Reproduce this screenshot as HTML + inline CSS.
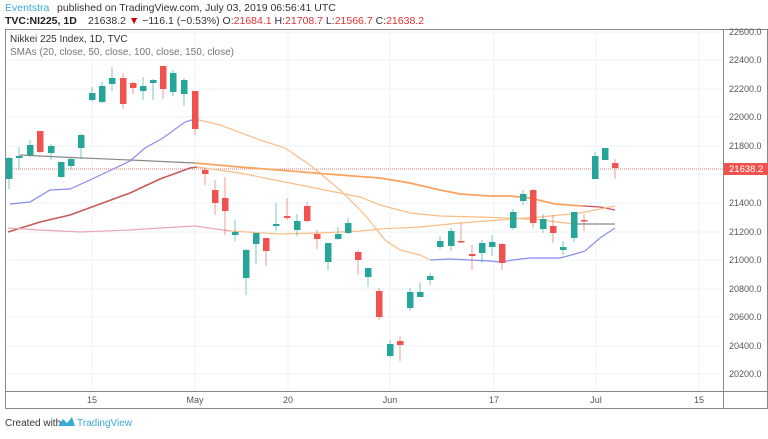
<!DOCTYPE html><html><head><style>
body{margin:0;width:768px;height:434px;background:#fff;overflow:hidden;font-family:"Liberation Sans",sans-serif}
</style></head><body>
<svg width="768" height="434" xmlns="http://www.w3.org/2000/svg" font-family="Liberation Sans, sans-serif">
<text x="5" y="11" font-size="10.5" fill="#3da9d9">Eventstra</text>
<text x="57" y="11" font-size="10.5" fill="#333">published on TradingView.com, July 03, 2019 06:56:41 UTC</text>
<text x="5" y="24" font-size="10.5" fill="#222" font-weight="bold">TVC:NI225, 1D</text>
<text x="88" y="24" font-size="10.5" fill="#333">21638.2 <tspan fill="#c00">▼</tspan> −116.1 (−0.53%) O:<tspan fill="#d33">21684.1</tspan> H:<tspan fill="#d33">21708.7</tspan> L:<tspan fill="#d33">21566.7</tspan> C:<tspan fill="#d33">21638.2</tspan></text>
<rect x="5.5" y="29.5" width="762" height="379" fill="none" stroke="#888"/>
<line x1="723.5" y1="29" x2="723.5" y2="409" stroke="#888"/>
<line x1="5" y1="391.5" x2="768" y2="391.5" stroke="#888"/>
<g stroke="#eef3f6">
<line x1="92" y1="30" x2="92" y2="391"/><line x1="195" y1="30" x2="195" y2="391"/><line x1="288" y1="30" x2="288" y2="391"/><line x1="390" y1="30" x2="390" y2="391"/><line x1="494" y1="30" x2="494" y2="391"/><line x1="596" y1="30" x2="596" y2="391"/><line x1="699" y1="30" x2="699" y2="391"/>
<line x1="6" y1="32" x2="723" y2="32"/><line x1="6" y1="60" x2="723" y2="60"/><line x1="6" y1="89" x2="723" y2="89"/><line x1="6" y1="117" x2="723" y2="117"/><line x1="6" y1="146" x2="723" y2="146"/><line x1="6" y1="174" x2="723" y2="174"/><line x1="6" y1="203" x2="723" y2="203"/><line x1="6" y1="232" x2="723" y2="232"/><line x1="6" y1="260" x2="723" y2="260"/><line x1="6" y1="289" x2="723" y2="289"/><line x1="6" y1="317" x2="723" y2="317"/><line x1="6" y1="346" x2="723" y2="346"/><line x1="6" y1="374" x2="723" y2="374"/>
</g>
<g font-size="9" fill="#555">
<text x="729" y="35">22600.0</text><text x="729" y="63">22400.0</text><text x="729" y="92">22200.0</text><text x="729" y="120">22000.0</text><text x="729" y="149">21800.0</text><text x="729" y="206">21400.0</text><text x="729" y="235">21200.0</text><text x="729" y="263">21000.0</text><text x="729" y="292">20800.0</text><text x="729" y="320">20600.0</text><text x="729" y="349">20400.0</text><text x="729" y="377">20200.0</text>
</g>
<g font-size="9" fill="#555" text-anchor="middle">
<text x="92" y="403">15</text><text x="195" y="403">May</text><text x="288" y="403">20</text><text x="390" y="403">Jun</text><text x="494" y="403">17</text><text x="596" y="403">Jul</text><text x="699" y="403">15</text>
</g>
<text x="10" y="42" font-size="10" fill="#333">Nikkei 225 Index, 1D, TVC</text>
<text x="10" y="55" font-size="10" fill="#777">SMAs (20, close, 50, close, 100, close, 150, close)</text>
<line x1="6" y1="169" x2="723" y2="169" stroke="#f08080" stroke-dasharray="1,1"/>
<g fill="none" stroke-width="1.2">
<polyline stroke="#8c8cf0" points="10,204 30,202 50,190 70,189 90,180 130,161 145,148 163,138 185,122 195,119"/>
<polyline stroke="#fbbd88" points="195,119 220,125 260,140 285,148 310,165 340,190 365,215 385,240 400,250 420,255 430,260"/>
<polyline stroke="#8c8cf0" points="430,260 450,259 470,260 490,261 500,262 513,260 530,258 560,258 575,254 585,251 600,238 615,228"/>
<polyline stroke="#888" points="20,155 60,157 130,160 195,163"/>
<polyline stroke="#f8a45e" stroke-width="1.8" points="195,163 240,167 290,171 340,175 380,178 410,183 440,190 460,194 490,196 510,196 530,198 555,204 583,206"/>
<polyline stroke="#c85060" points="583,206 600,207 615,210"/>
<polyline stroke="#c85a5a" stroke-width="1.6" points="8,232 40,222 70,215 100,204 130,193 160,179 190,168 197,167"/>
<polyline stroke="#fbbd88" points="197,167 240,173 280,181 320,189 360,197 380,205 410,213 440,216 480,217 510,218 540,220 575,224"/>
<polyline stroke="#888" points="575,224 600,224 615,224"/>
<polyline stroke="#e8a8b4" points="8,228 40,230 80,232 130,230 160,228 195,226 230,231"/>
<polyline stroke="#fbbd88" points="230,231 280,234 320,233 360,231 380,229 420,227 460,223 500,220 540,217 580,213 615,206"/>
</g>
<g stroke="#26a69a" stroke-opacity="0.6">
<line x1="9" x2="9" y1="157" y2="189"/><line x1="19" x2="19" y1="147" y2="170"/><line x1="30" x2="30" y1="140" y2="157"/><line x1="51" x2="51" y1="144" y2="160"/><line x1="61" x2="61" y1="162" y2="178"/><line x1="71" x2="71" y1="157" y2="170"/><line x1="81" x2="81" y1="134" y2="159"/><line x1="92" x2="92" y1="87" y2="102"/><line x1="102" x2="102" y1="82" y2="103"/><line x1="112" x2="112" y1="67" y2="91"/><line x1="143" x2="143" y1="77" y2="100"/><line x1="153" x2="153" y1="79" y2="100"/><line x1="173" x2="173" y1="70" y2="96"/><line x1="184" x2="184" y1="78" y2="106"/><line x1="235" x2="235" y1="220" y2="241"/><line x1="246" x2="246" y1="249" y2="295"/><line x1="256" x2="256" y1="233" y2="264"/><line x1="276" x2="276" y1="203" y2="231"/><line x1="297" x2="297" y1="214" y2="236"/><line x1="328" x2="328" y1="243" y2="270"/><line x1="338" x2="338" y1="227" y2="240"/><line x1="348" x2="348" y1="218" y2="234"/><line x1="368" x2="368" y1="268" y2="287"/><line x1="390" x2="390" y1="340" y2="358"/><line x1="410" x2="410" y1="288" y2="311"/><line x1="420" x2="420" y1="282" y2="297"/><line x1="430" x2="430" y1="273" y2="285"/><line x1="440" x2="440" y1="236" y2="249"/><line x1="451" x2="451" y1="228" y2="251"/><line x1="482" x2="482" y1="240" y2="263"/><line x1="492" x2="492" y1="235" y2="256"/><line x1="513" x2="513" y1="209" y2="230"/><line x1="523" x2="523" y1="190" y2="205"/><line x1="543" x2="543" y1="214" y2="233"/><line x1="563" x2="563" y1="241" y2="255"/><line x1="574" x2="574" y1="212" y2="242"/><line x1="595" x2="595" y1="152" y2="179"/><line x1="605" x2="605" y1="148" y2="160"/>
</g>
<g fill="#26a69a">
<rect x="6" y="158" width="6.5" height="21"/><rect x="16" y="156" width="6.5" height="2"/><rect x="27" y="145" width="6.5" height="10"/><rect x="48" y="146" width="6.5" height="7"/><rect x="58" y="162" width="6.5" height="15"/><rect x="68" y="159" width="6.5" height="7"/><rect x="78" y="135" width="6.5" height="13"/><rect x="89" y="93" width="6.5" height="7"/><rect x="99" y="86" width="6.5" height="16"/><rect x="109" y="78" width="6.5" height="6"/><rect x="140" y="86" width="6.5" height="5"/><rect x="150" y="80" width="6.5" height="3"/><rect x="170" y="73" width="6.5" height="19"/><rect x="181" y="80" width="6.5" height="14"/><rect x="232" y="232" width="6.5" height="3"/><rect x="243" y="250" width="6.5" height="28"/><rect x="253" y="233" width="6.5" height="11"/><rect x="273" y="224" width="6.5" height="2"/><rect x="294" y="221" width="6.5" height="9"/><rect x="325" y="243" width="6.5" height="19"/><rect x="335" y="234" width="6.5" height="5"/><rect x="345" y="223" width="6.5" height="10"/><rect x="365" y="268" width="6.5" height="9"/><rect x="387" y="344" width="6.5" height="12"/><rect x="407" y="292" width="6.5" height="16"/><rect x="417" y="292" width="6.5" height="5"/><rect x="427" y="276" width="6.5" height="4"/><rect x="437" y="241" width="6.5" height="6"/><rect x="448" y="231" width="6.5" height="15"/><rect x="479" y="243" width="6.5" height="10"/><rect x="489" y="242" width="6.5" height="5"/><rect x="510" y="212" width="6.5" height="16"/><rect x="520" y="194" width="6.5" height="7"/><rect x="540" y="219" width="6.5" height="10"/><rect x="560" y="247" width="6.5" height="3"/><rect x="571" y="212" width="6.5" height="26"/><rect x="592" y="156" width="6.5" height="23"/><rect x="602" y="148" width="6.5" height="12"/>
</g>
<g stroke="#ef5350" stroke-opacity="0.6">
<line x1="40" x2="40" y1="131" y2="153"/><line x1="123" x2="123" y1="73" y2="109"/><line x1="133" x2="133" y1="82" y2="94"/><line x1="163" x2="163" y1="66" y2="99"/><line x1="195" x2="195" y1="91" y2="135"/><line x1="205" x2="205" y1="168" y2="185"/><line x1="215" x2="215" y1="180" y2="215"/><line x1="225" x2="225" y1="177" y2="235"/><line x1="266" x2="266" y1="238" y2="266"/><line x1="287" x2="287" y1="198" y2="220"/><line x1="307" x2="307" y1="202" y2="222"/><line x1="317" x2="317" y1="230" y2="249"/><line x1="358" x2="358" y1="250" y2="275"/><line x1="379" x2="379" y1="288" y2="320"/><line x1="400" x2="400" y1="336" y2="361"/><line x1="461" x2="461" y1="223" y2="243"/><line x1="472" x2="472" y1="245" y2="270"/><line x1="502" x2="502" y1="243" y2="270"/><line x1="533" x2="533" y1="189" y2="228"/><line x1="553" x2="553" y1="215" y2="243"/><line x1="584" x2="584" y1="214" y2="231"/><line x1="615" x2="615" y1="159" y2="179"/>
</g>
<g fill="#ef5350">
<rect x="37" y="131" width="6.5" height="21"/><rect x="120" y="78" width="6.5" height="26"/><rect x="130" y="83" width="6.5" height="5"/><rect x="160" y="66" width="6.5" height="23"/><rect x="192" y="91" width="6.5" height="38"/><rect x="202" y="170" width="6.5" height="4"/><rect x="212" y="190" width="6.5" height="13"/><rect x="222" y="198" width="6.5" height="13"/><rect x="263" y="238" width="6.5" height="13"/><rect x="284" y="216" width="6.5" height="2"/><rect x="304" y="206" width="6.5" height="15"/><rect x="314" y="234" width="6.5" height="5"/><rect x="355" y="252" width="6.5" height="8"/><rect x="376" y="291" width="6.5" height="26"/><rect x="397" y="341" width="6.5" height="4"/><rect x="458" y="241" width="6.5" height="1.5"/><rect x="469" y="254" width="6.5" height="2"/><rect x="499" y="244" width="6.5" height="19"/><rect x="530" y="190" width="6.5" height="33"/><rect x="550" y="226" width="6.5" height="7"/><rect x="581" y="220" width="6.5" height="1.5"/><rect x="612" y="163" width="6.5" height="5"/>
</g>
<rect x="724" y="163" width="44" height="12" fill="#ef5350"/>
<text x="729" y="172" font-size="9.5" fill="#fff">21638.2</text>
<text x="5" y="426" font-size="10" fill="#333">Created with</text>
<path d="M58 426 l5 -7 l4 4 l5 -6 l3 9 z" fill="#3da9d9"/>
<text x="77" y="426" font-size="10" fill="#3da9d9">TradingView</text>
</svg>
</body></html>
